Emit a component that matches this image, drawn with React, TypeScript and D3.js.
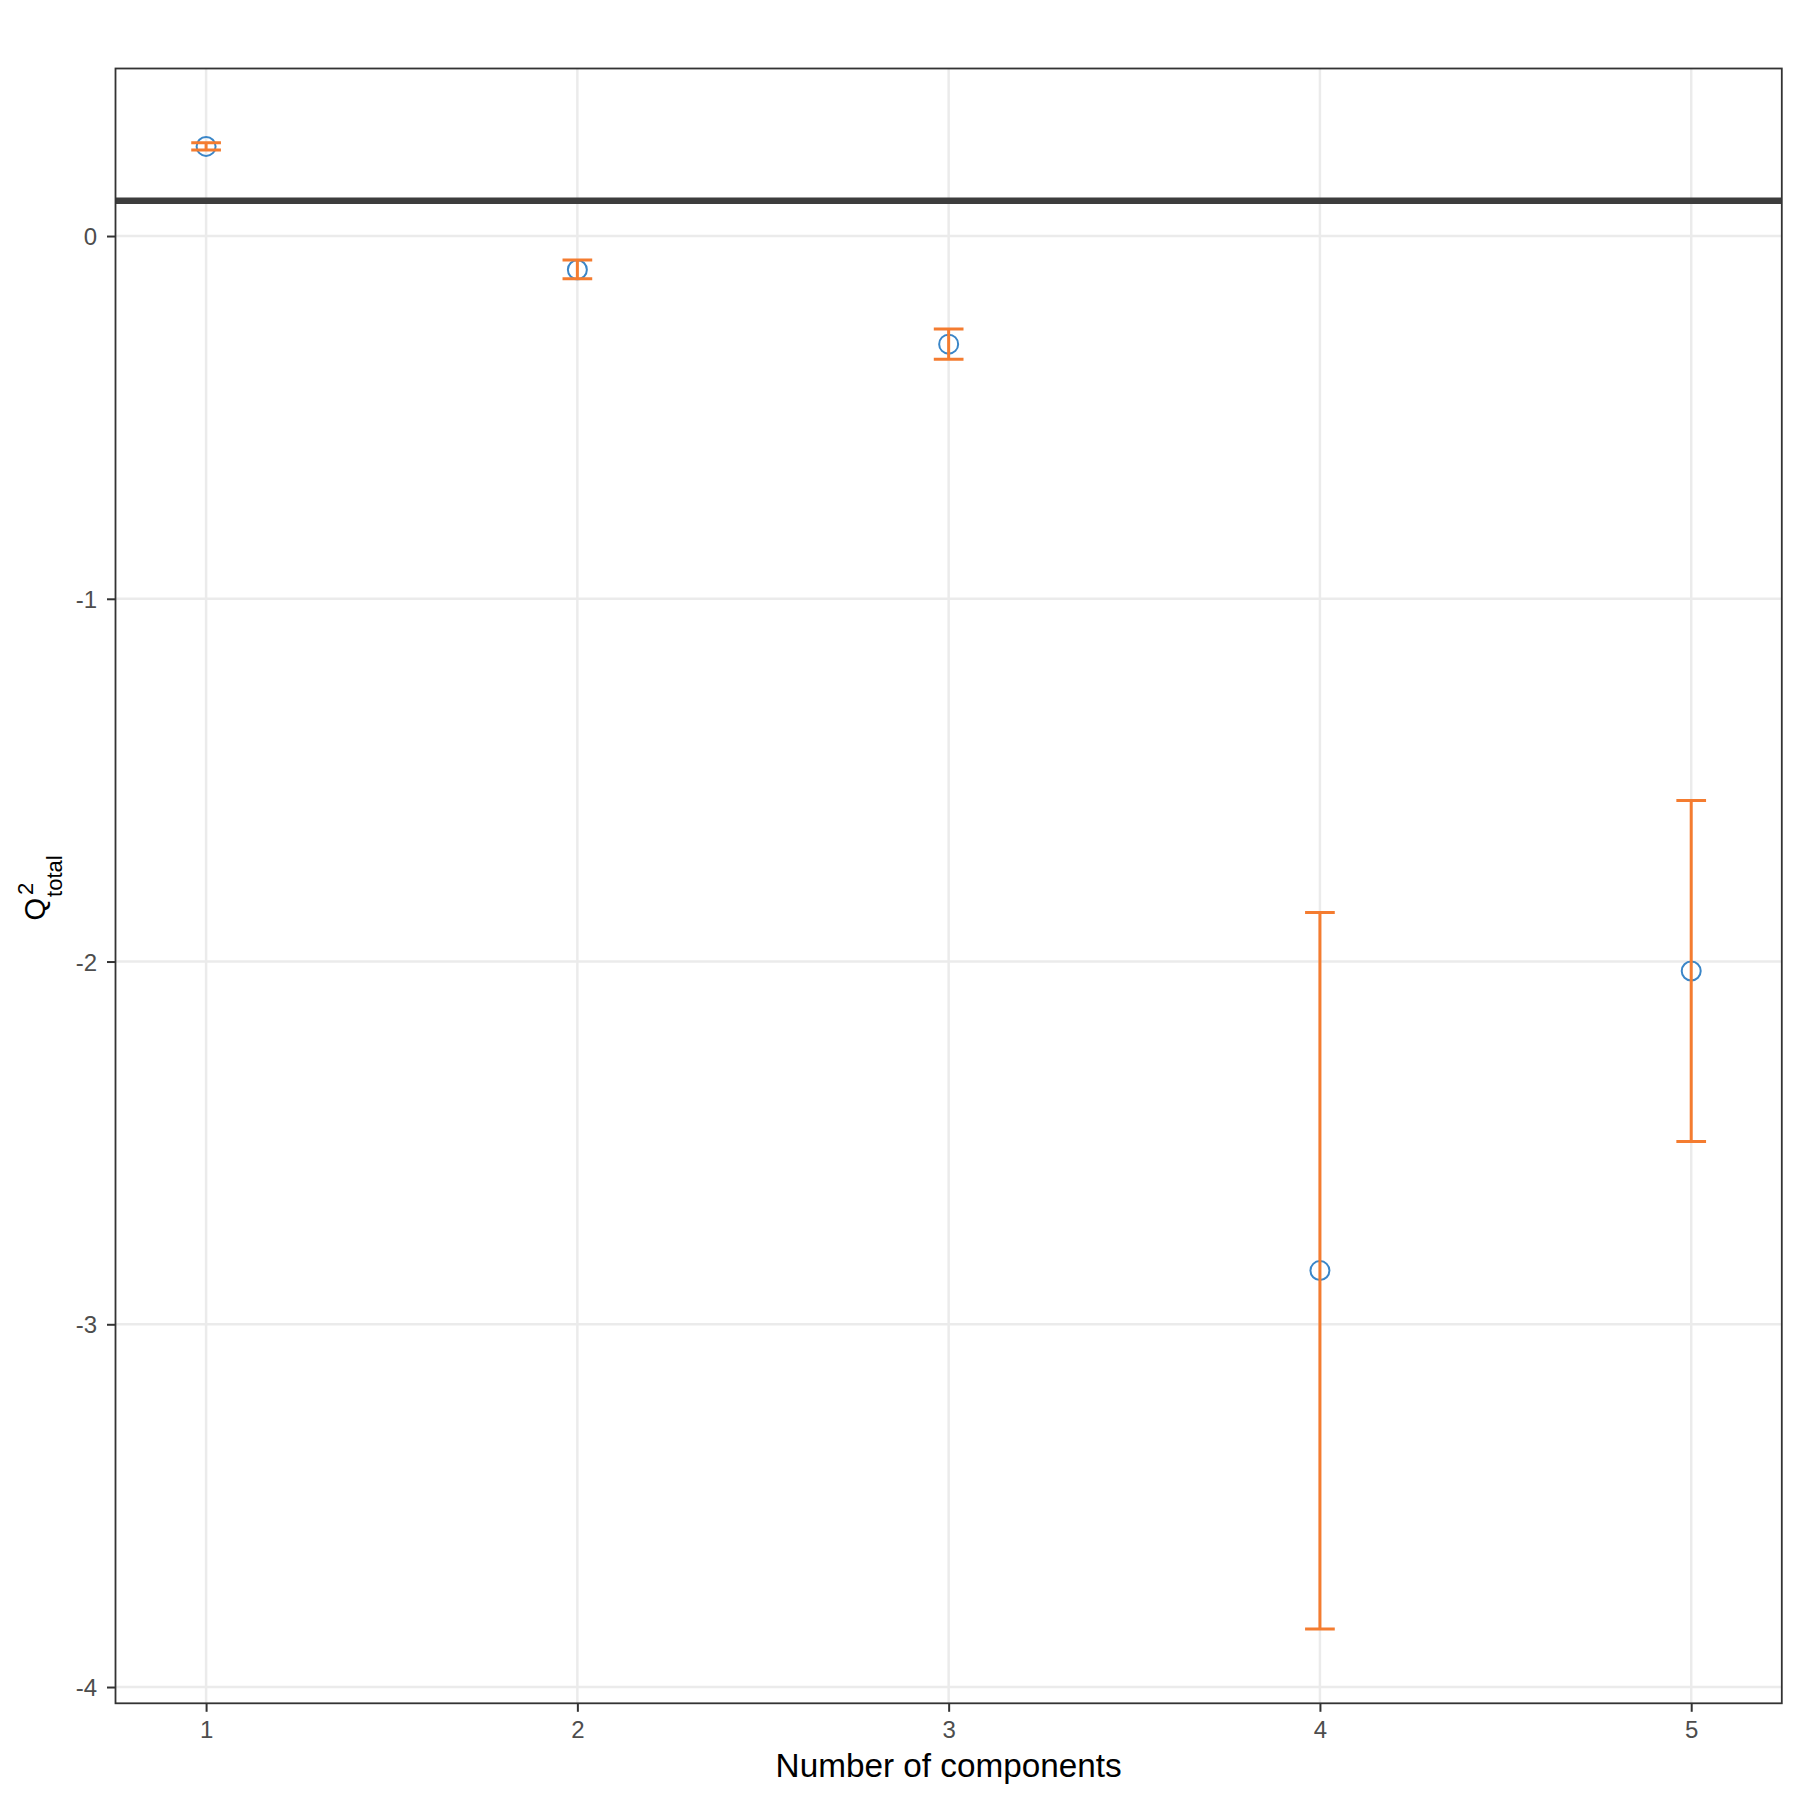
import * as d3 from 'd3'
import { useEffect, useRef } from 'react'

const WIDTH = 1800
const HEIGHT = 1800
const PANEL = { left: 115.5, top: 68.5, right: 1781.8, bottom: 1703.3 }

const COMPONENTS = [1, 2, 3, 4, 5]
const Q2_TOTAL = [0.247, -0.093, -0.298, -2.852, -2.026]
const Q2_LOWER = [0.237, -0.118, -0.34, -3.84, -2.496]
const Q2_UPPER = [0.257, -0.066, -0.256, -1.865, -1.556]
const Q2_LIMIT = 0.0975
const Y_TICKS = [-4, -3, -2, -1, 0]

const BLUE = '#3A86C8'
const ORANGE = '#F47C30'
const FONT = '"Liberation Sans", Arial, Helvetica, sans-serif'
const CAP_WIDTH = 0.08

function drawChart(node: SVGSVGElement) {
  const svg = d3.select(node)
  svg.selectAll('*').remove()

  // ggplot-style 5% expansion
  const xMin = d3.min(COMPONENTS)! - CAP_WIDTH / 2
  const xMax = d3.max(COMPONENTS)! + CAP_WIDTH / 2
  const xPad = (xMax - xMin) * 0.05
  const x = d3.scaleLinear([xMin - xPad, xMax + xPad], [PANEL.left, PANEL.right])

  const yMin = d3.min(Q2_LOWER)!
  const yMax = Math.max(d3.max(Q2_UPPER)!, Q2_LIMIT)
  const yPad = (yMax - yMin) * 0.05
  const y = d3.scaleLinear([yMin - yPad, yMax + yPad], [PANEL.bottom, PANEL.top])

  svg.append('rect').attr('width', WIDTH).attr('height', HEIGHT).attr('fill', '#fff')

  // grid
  const grid = svg.append('g').attr('stroke', '#EBEBEB').attr('stroke-width', 2.5)
  grid
    .selectAll('line.h')
    .data(Y_TICKS)
    .join('line')
    .attr('x1', PANEL.left)
    .attr('x2', PANEL.right)
    .attr('y1', (d) => y(d))
    .attr('y2', (d) => y(d))
  grid
    .selectAll('line.v')
    .data(COMPONENTS)
    .join('line')
    .attr('x1', (d) => x(d))
    .attr('x2', (d) => x(d))
    .attr('y1', PANEL.top)
    .attr('y2', PANEL.bottom)

  // threshold line
  svg
    .append('line')
    .attr('x1', PANEL.left)
    .attr('x2', PANEL.right)
    .attr('y1', y(Q2_LIMIT))
    .attr('y2', y(Q2_LIMIT))
    .attr('stroke', '#3d3d3d')
    .attr('stroke-width', 6.5)

  // points
  svg
    .append('g')
    .selectAll('circle')
    .data(COMPONENTS)
    .join('circle')
    .attr('cx', (d) => x(d))
    .attr('cy', (_, i) => y(Q2_TOTAL[i]))
    .attr('r', 9.5)
    .attr('fill', 'none')
    .attr('stroke', BLUE)
    .attr('stroke-width', 2)

  // error bars
  svg
    .append('g')
    .attr('stroke', ORANGE)
    .attr('stroke-width', 3)
    .attr('fill', 'none')
    .selectAll('path')
    .data(COMPONENTS)
    .join('path')
    .attr('d', (d, i) => {
      const l = x(d - CAP_WIDTH / 2)
      const r = x(d + CAP_WIDTH / 2)
      const lo = y(Q2_LOWER[i])
      const hi = y(Q2_UPPER[i])
      return `M${l},${hi}H${r}M${x(d)},${hi}V${lo}M${l},${lo}H${r}`
    })

  // panel border
  svg
    .append('rect')
    .attr('x', PANEL.left)
    .attr('y', PANEL.top)
    .attr('width', PANEL.right - PANEL.left)
    .attr('height', PANEL.bottom - PANEL.top)
    .attr('fill', 'none')
    .attr('stroke', '#333333')
    .attr('stroke-width', 1.8)

  // axes
  const fmt = (d: d3.NumberValue) => String(d)
  const xAxis = svg
    .append('g')
    .attr('transform', `translate(0,${PANEL.bottom})`)
    .call(
      d3.axisBottom(x).tickValues(COMPONENTS).tickFormat(fmt).tickSize(8.5).tickPadding(9).tickSizeOuter(0),
    )
  const yAxis = svg
    .append('g')
    .attr('transform', `translate(${PANEL.left},0)`)
    .call(
      d3.axisLeft(y).tickValues(Y_TICKS).tickFormat(fmt).tickSize(8.5).tickPadding(10).tickSizeOuter(0),
    )
  ;[xAxis, yAxis].forEach((g) => {
    g.select('.domain').remove()
    g.selectAll('line').attr('stroke', '#333333').attr('stroke-width', 2)
    g.selectAll('text')
      .attr('fill', '#4D4D4D')
      .attr('font-family', FONT)
      .attr('font-size', 24)
  })
  yAxis.selectAll('text').attr('dy', '0.36em')

  // x title
  svg
    .append('text')
    .attr('x', (PANEL.left + PANEL.right) / 2)
    .attr('y', 1777)
    .attr('text-anchor', 'middle')
    .attr('font-family', FONT)
    .attr('font-size', 33.3)
    .attr('fill', '#000')
    .text('Number of components')

  // y title: Q^2_total
  const yTitle = svg
    .append('g')
    .attr('transform', `translate(45,${(PANEL.top + PANEL.bottom) / 2}) rotate(-90)`)
    .attr('font-family', FONT)
    .attr('fill', '#000')
  yTitle.append('text').attr('x', -34.5).attr('y', 0).attr('font-size', 29).text('Q')
  yTitle.append('text').attr('x', -11).attr('y', 17).attr('font-size', 22).text('total')
  yTitle.append('text').attr('x', -9).attr('y', -12).attr('font-size', 22).text('2')
}

export default function App() {
  const ref = useRef<SVGSVGElement>(null)
  useEffect(() => {
    if (ref.current) drawChart(ref.current)
  }, [])
  return (
    <svg
      ref={ref}
      width={WIDTH}
      height={HEIGHT}
      viewBox={`0 0 ${WIDTH} ${HEIGHT}`}
      style={{ position: 'absolute', left: 0, top: 0 }}
    />
  )
}
